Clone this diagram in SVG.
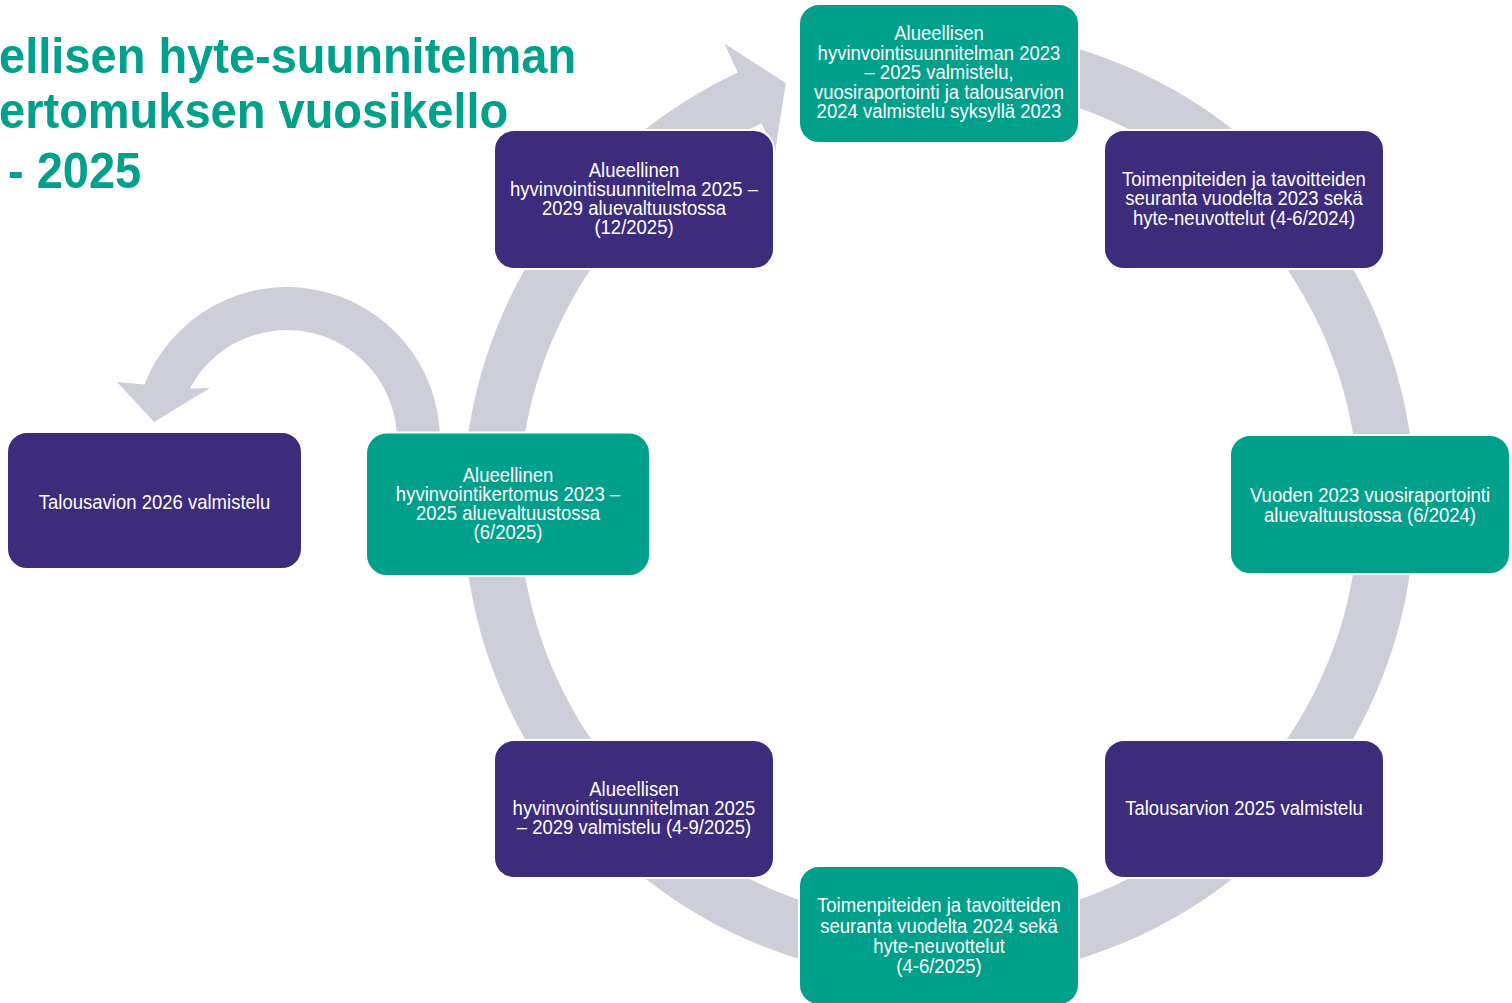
<svg xmlns="http://www.w3.org/2000/svg" width="1512" height="1003" viewBox="0 0 1512 1003">
<style>
.teal{fill:#00A08B;stroke:#FFFFFF;stroke-width:2}
.purple{fill:#3D2B7B;stroke:#FFFFFF;stroke-width:2}
.lbl{font-family:"Liberation Sans",Arial,sans-serif;font-size:19.5px;fill:#FFFFFF;text-anchor:middle}
.title{font-family:"Liberation Sans",Arial,sans-serif;font-size:50px;font-weight:bold;fill:#00A08B}
.ring{fill:#CECDDA}
</style>
<rect x="0" y="0" width="1512" height="1003" fill="#FFFFFF"/>
<g id="title" transform="scale(0.94 1)">
<text class="title" x="-1" y="72.7">ellisen hyte-suunnitelman</text>
<text class="title" x="-1" y="128.3">ertomuksen vuosikello</text>
<text class="title" x="8.5" y="188">- 2025</text>
</g>
<g id="connectors">
<path class="ring" d="M 856.34 35.23 A 476 476 0 1 1 737.83 72.60 L 724.31 43.59 L 785.78 83.02 L 775.02 152.35 L 761.50 123.35 A 420 420 0 1 0 866.07 90.38 Z"/>
<path class="ring" d="M 440 440 A 153 153 0 0 0 144.4 384.6 L 117 382 L 154 422 L 210 388 L 189.9 388.4 A 110 110 0 0 1 397 440 Z"/>
</g>
<g id="n1">
<rect class="teal" x="799" y="4" width="280" height="139" rx="20"/>
<text class="lbl" transform="translate(939 0) scale(0.95 1)"><tspan x="0" y="40.5">Alueellisen</tspan><tspan x="0" y="60">hyvinvointisuunnitelman 2023</tspan><tspan x="0" y="79.5">– 2025 valmistelu,</tspan><tspan x="0" y="99">vuosiraportointi ja talousarvion</tspan><tspan x="0" y="118.5">2024 valmistelu syksyllä 2023</tspan></text>
</g>
<g id="n2">
<rect class="purple" x="1104" y="130" width="280" height="139" rx="20"/>
<text class="lbl" transform="translate(1244 0) scale(0.95 1)"><tspan x="0" y="186">Toimenpiteiden ja tavoitteiden</tspan><tspan x="0" y="205.5">seuranta vuodelta 2023 sekä</tspan><tspan x="0" y="225">hyte-neuvottelut (4-6/2024)</tspan></text>
</g>
<g id="n3">
<rect class="teal" x="1230" y="435" width="280" height="139" rx="20"/>
<text class="lbl" transform="translate(1370 0) scale(0.95 1)"><tspan x="0" y="501.7">Vuoden 2023 vuosiraportointi</tspan><tspan x="0" y="521.7">aluevaltuustossa (6/2024)</tspan></text>
</g>
<g id="n4">
<rect class="purple" x="1104" y="740" width="280" height="138" rx="20"/>
<text class="lbl" transform="translate(1244 0) scale(0.95 1)"><tspan x="0" y="815">Talousarvion 2025 valmistelu</tspan></text>
</g>
<g id="n5">
<rect class="teal" x="799" y="866" width="280" height="139" rx="20"/>
<text class="lbl" transform="translate(939 0) scale(0.95 1)"><tspan x="0" y="911.7">Toimenpiteiden ja tavoitteiden</tspan><tspan x="0" y="933">seuranta vuodelta 2024 sekä</tspan><tspan x="0" y="953.5">hyte-neuvottelut</tspan><tspan x="0" y="973">(4-6/2025)</tspan></text>
</g>
<g id="n6">
<rect class="purple" x="494" y="740" width="280" height="138" rx="20"/>
<text class="lbl" transform="translate(634 0) scale(0.95 1)"><tspan x="0" y="796">Alueellisen</tspan><tspan x="0" y="815">hyvinvointisuunnitelman 2025</tspan><tspan x="0" y="834">– 2029 valmistelu (4-9/2025)</tspan></text>
</g>
<g id="n7">
<rect class="teal" x="366" y="432.5" width="284" height="143.5" rx="21"/>
<text class="lbl" transform="translate(508 0) scale(0.95 1)"><tspan x="0" y="481.7">Alueellinen</tspan><tspan x="0" y="501.3">hyvinvointikertomus 2023 –</tspan><tspan x="0" y="520.5">2025 aluevaltuustossa</tspan><tspan x="0" y="539.5">(6/2025)</tspan></text>
</g>
<g id="n8">
<rect class="purple" x="494" y="130" width="280" height="139" rx="20"/>
<text class="lbl" transform="translate(634 0) scale(0.95 1)"><tspan x="0" y="176.7">Alueellinen</tspan><tspan x="0" y="196">hyvinvointisuunnitelma 2025 –</tspan><tspan x="0" y="215.3">2029 aluevaltuustossa</tspan><tspan x="0" y="234.5">(12/2025)</tspan></text>
</g>
<g id="n9">
<rect class="purple" x="7" y="432" width="295" height="137" rx="20"/>
<text class="lbl" transform="translate(154.5 0) scale(0.95 1)"><tspan x="0" y="509">Talousavion 2026 valmistelu</tspan></text>
</g>
</svg>
